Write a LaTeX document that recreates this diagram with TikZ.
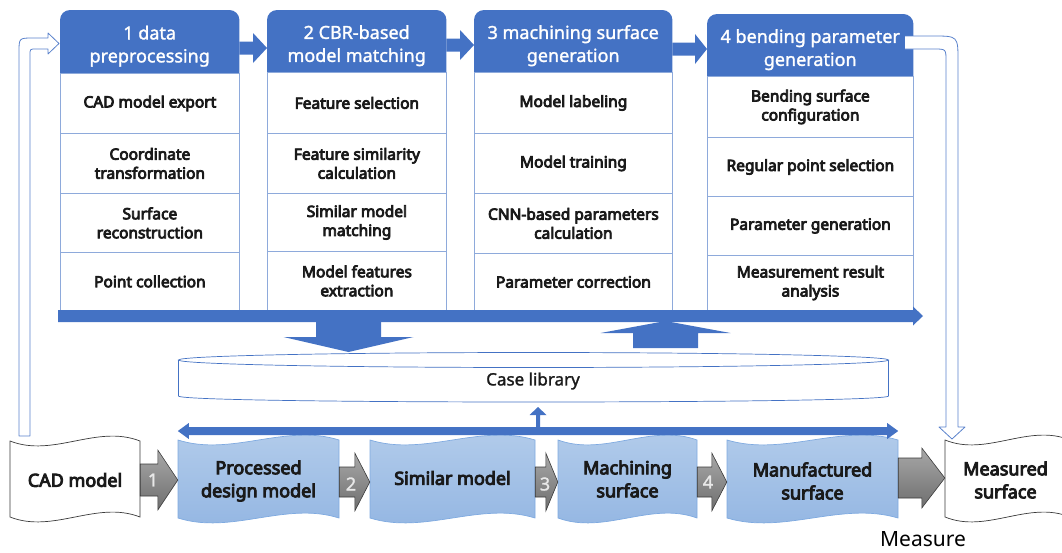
\documentclass[tikz,border=0pt]{standalone}
\usepackage{fontspec}
\setmainfont{Noto Sans}
\newfontfamily\cellfont{Noto Sans}[FakeBold=5]
\newfontfamily\hdrfont{Noto Sans}[FakeBold=1.5]
\newfontfamily\libfont{Noto Sans}[FakeBold=1.5]
\usetikzlibrary{calc}
\pgfdeclarelayer{background}
\pgfsetlayers{background,main}

\definecolor{hdrblue}{HTML}{4472C4}
\definecolor{cellline}{HTML}{8EAADB}
\definecolor{wavetop}{HTML}{B4CDEB}
\definecolor{wavebot}{HTML}{92B5E2}
\definecolor{waveline}{HTML}{7FAAE0}
\definecolor{grayhi}{HTML}{A8A8A8}
\definecolor{graylo}{HTML}{6E6E6E}
\definecolor{grayline}{HTML}{3A3A3A}
\definecolor{numgray}{HTML}{E8E8E8}
\definecolor{txt}{HTML}{1A1A1A}
\definecolor{fbline}{HTML}{5A82CC}

% horizontal block arrow: #2 tail point, #3 tip point (same height)
\newcommand\blockH[6][]{\path[#1] let \p1=(#2),\p2=(#3),\n1={(\x2>\x1)*2-1} in
  (\x1,\y1+#4) -- (\x2-\n1*#6,\y1+#4) -- (\x2-\n1*#6,\y1+#5) -- (\x2,\y1)
  -- (\x2-\n1*#6,\y1-#5) -- (\x2-\n1*#6,\y1-#4) -- (\x1,\y1-#4) -- cycle;}
% vertical block arrow: #2 tail point, #3 tip point (same abscissa)
\newcommand\blockV[6][]{\path[#1] let \p1=(#2),\p2=(#3),\n1={(\y2>\y1)*2-1} in
  (\x1+#4,\y1) -- (\x1+#4,\y2-\n1*#6) -- (\x1+#5,\y2-\n1*#6) -- (\x1,\y2)
  -- (\x1-#5,\y2-\n1*#6) -- (\x1-#4,\y2-\n1*#6) -- (\x1-#4,\y1) -- cycle;}
% double-headed horizontal block arrow, #2 left tip, #3 right tip
\newcommand\blockDbl[6][]{\path[#1] let \p1=(#2),\p2=(#3) in
  (\x1,\y1) -- (\x1+#6,\y1-#5) -- (\x1+#6,\y1-#4) -- (\x2-#6,\y1-#4)
  -- (\x2-#6,\y1-#5) -- (\x2,\y1) -- (\x2-#6,\y1+#5) -- (\x2-#6,\y1+#4)
  -- (\x1+#6,\y1+#4) -- (\x1+#6,\y1+#5) -- cycle;}
% wavy document box between x #2..#4, top #3, bottom #5
\newcommand\wavebox[5][]{\path[#1] (#2,#3)
  .. controls ({#2+(#4-#2)/3},{#3+17}) and ({#2+2*(#4-#2)/3},{#3-17}) .. (#4,#3)
  -- (#4,#5)
  .. controls ({#2+2*(#4-#2)/3},{#5-17}) and ({#2+(#4-#2)/3},{#5+17}) .. (#2,#5)
  -- cycle;}

\begin{document}
\begin{tikzpicture}[x=1pt,y=-1pt,
  hdrbox/.style={inner sep=0pt, anchor=north west},
  hdrtext/.style={text=white, font=\hdrfont\fontsize{18}{23}\selectfont, align=center,
    inner sep=0pt, yshift=-4.5pt},
  cell/.style={draw=cellline, line width=0.8pt, fill=white, text=txt,
    font=\cellfont\fontsize{15.5}{19}\selectfont, align=center, inner sep=0pt, anchor=north west},
  hdrfill/.style={fill=hdrblue},
  bluearrow/.style={fill=hdrblue},
  fbarrow/.style={draw=fbline, line width=0.8pt, fill=white, line join=round},
  libbody/.style={draw=hdrblue, line width=0.7pt, fill=white},
  libtext/.style={text=txt, font=\libfont\fontsize{17}{20}\selectfont, inner sep=0pt},
  bluewave/.style={draw=waveline, line width=0.7pt, top color=wavetop, bottom color=wavebot},
  whitewave/.style={draw=grayline, line width=0.7pt, fill=white},
  wavetext/.style={text=txt, font=\cellfont\fontsize{18}{23}\selectfont, align=center,
    inner sep=0pt, minimum height=76pt},
  grayarrow/.style={draw=grayline, line width=0.6pt, top color=grayhi, bottom color=graylo,
    line join=miter},
  numtext/.style={text=numgray, font=\hdrfont\fontsize{18}{20}\selectfont, inner sep=0pt},
  measuretext/.style={text=black, font=\fontsize{21}{24}\selectfont, inner sep=0pt}
]
\useasboundingbox (0,0) rectangle (1062,552);

% ---------------- feedback loops (behind the headers) ----------------
\draw[fbarrow] (30,436) -- (19,436) -- (19,52) .. controls (19,38) .. (33,38)
  -- (48,38) -- (48,33) -- (59,43.5) -- (48,54) -- (48,49) -- (36,49)
  .. controls (30,49) .. (30,55) -- cycle;
\draw[fbarrow] (905,36) -- (933,36) .. controls (958,36) .. (958,61) -- (958,427)
  -- (965,427) -- (952,439) -- (939,427) -- (946,427) -- (946,61)
  .. controls (946,49) .. (934,49) -- (905,49);

% ---------------- column headers ----------------
\node[hdrbox, minimum width=179pt, minimum height=63pt] (h1) at (60,10) {};
\node[hdrbox, minimum width=179pt, minimum height=62pt] (h2) at (267,10) {};
\node[hdrbox, minimum width=198pt, minimum height=62pt] (h3) at (474,10) {};
\node[hdrbox, minimum width=206pt, minimum height=62pt] (h4) at (707,14) {};
\begin{pgfonlayer}{background}
  \foreach \h in {h1,h2,h3,h4}{
    \fill[hdrfill] (\h.south west) [rounded corners=10pt] -- (\h.north west)
      -- (\h.north east) [sharp corners] -- (\h.south east) -- cycle;
  }
\end{pgfonlayer}
\node[hdrtext] (t1) at (h1.center) {1 data\\preprocessing};
\node[hdrtext] (t2) at (h2.center) {2 CBR-based\\model matching};
\node[hdrtext] (t3) at (h3.center) {3 machining surface\\generation};
\node[hdrtext] (t4) at (h4.center) {4 bending parameter\\generation};

% ---------------- column cells ----------------
\node[cell, minimum width=179pt, minimum height=60pt] (c11) at (60,73)  {CAD model export};
\node[cell, minimum width=179pt, minimum height=60pt] (c12) at (60,133) {Coordinate\\transformation};
\node[cell, minimum width=179pt, minimum height=59pt] (c13) at (60,193) {Surface\\reconstruction};
\node[cell, minimum width=179pt, minimum height=58pt] (c14) at (60,252) {Point collection};

\node[cell, minimum width=179pt, minimum height=61pt] (c21) at (267,72)  {Feature selection};
\node[cell, minimum width=179pt, minimum height=60pt] (c22) at (267,133) {Feature similarity\\calculation};
\node[cell, minimum width=179pt, minimum height=58pt] (c23) at (267,193) {Similar model\\matching};
\node[cell, minimum width=179pt, minimum height=59pt] (c24) at (267,251) {Model features\\extraction};

\node[cell, minimum width=198pt, minimum height=61pt] (c31) at (474,72)  {Model labeling};
\node[cell, minimum width=198pt, minimum height=60pt] (c32) at (474,133) {Model training};
\node[cell, minimum width=198pt, minimum height=60pt] (c33) at (474,193) {CNN-based parameters\\calculation};
\node[cell, minimum width=198pt, minimum height=57pt] (c34) at (474,253) {Parameter correction};

\node[cell, minimum width=206pt, minimum height=61pt] (c41) at (707,76)  {Bending surface\\configuration};
\node[cell, minimum width=206pt, minimum height=59pt] (c42) at (707,137) {Regular point selection};
\node[cell, minimum width=206pt, minimum height=59pt] (c43) at (707,196) {Parameter generation};
\node[cell, minimum width=206pt, minimum height=55pt] (c44) at (707,255) {Measurement result\\analysis};

% ---------------- arrows between the headers ----------------
\coordinate (ya) at (0,48);
\coordinate (yb) at (0,45);
\coordinate (yc) at (0,49);
\blockH[bluearrow]{h1.east |- ya}{h2.west |- ya}{6.5pt}{15pt}{14pt}
\blockH[bluearrow]{h2.east |- yb}{h3.west |- yb}{6.5pt}{15pt}{14pt}
\blockH[bluearrow]{h3.east |- yc}{h4.west |- yc}{6.5pt}{15pt}{12pt}

% ---------------- main flow bar ----------------
\coordinate (busL) at (58,316);
\coordinate (busR) at (923,316);
\blockH[bluearrow]{busL}{busR}{6pt}{9.5pt}{10pt}

% ---------------- case library ----------------
\node[libtext] (lib) at (533,381) {Case library};
\begin{pgfonlayer}{background}
  \path[libbody] (178.5,360) -- (178.5,396)
    .. controls (178.5,404) and (888.5,404) .. (888.5,396) -- (888.5,360);
  \path[libbody] (533.5,360) ellipse [x radius=355pt, y radius=7.5pt];
\end{pgfonlayer}

\coordinate (dn0) at (348.5,322);
\coordinate (dn1) at (348.5,352);
\coordinate (up0) at (665.5,348);
\coordinate (up1) at (665.5,321);
\blockV[bluearrow]{dn0}{dn1}{32.5pt}{65pt}{15pt}
\blockV[bluearrow]{up0}{up1}{32.5pt}{65pt}{12pt}

% ---------------- bottom process chain ----------------
\begin{pgfonlayer}{background}
  \wavebox[whitewave]{10}{441}{140}{517}
  \wavebox[bluewave]{178}{440}{339}{518}
  \wavebox[bluewave]{370}{440}{535}{518}
  \wavebox[bluewave]{558}{440}{697}{518}
  \wavebox[bluewave]{727}{440}{898}{518}
  \wavebox[whitewave]{945}{440}{1070}{517}
\end{pgfonlayer}
\node[wavetext, minimum width=130pt] (w1) at (75,480)    {CAD model};
\node[wavetext, minimum width=161pt] (w2) at (258.5,481) {Processed\\design model};
\node[wavetext, minimum width=165pt] (w3) at (452.5,478) {Similar model};
\node[wavetext, minimum width=139pt] (w4) at (627.5,479) {Machining\\surface};
\node[wavetext, minimum width=171pt] (w5) at (812.5,481) {Manufactured\\surface};
\node[wavetext, minimum width=121pt] (w6) at (1005.5,480) {Measured\\surface};

\coordinate (g1) at (0,480);
\coordinate (g2) at (0,482);
\coordinate (g3) at (0,482);
\coordinate (g4) at (0,482);
\coordinate (g5) at (0,478);
\blockH[grayarrow]{w1.east |- g1}{w2.west |- g1}{16pt}{30pt}{20pt}
\blockH[grayarrow]{w2.east |- g2}{w3.west |- g2}{15pt}{29pt}{15pt}
\blockH[grayarrow]{w3.east |- g3}{w4.west |- g3}{15pt}{29pt}{12pt}
\blockH[grayarrow]{w4.east |- g4}{w5.west |- g4}{15pt}{29pt}{15pt}
\blockH[grayarrow]{w5.east |- g5}{w6.west |- g5}{20pt}{30pt}{23pt}

\node[numtext] (n1) at (153,480) {1};
\node[numtext] (n2) at (351,484) {2};
\node[numtext] (n3) at (545,484) {3};
\node[numtext] (n4) at (708,482) {4};

\node[measuretext] (meas) at (923,539) {Measure};

% ---------------- exchange bar with the case library ----------------
\coordinate (dbl) at (0,431);
\blockDbl[bluearrow]{w2.west |- dbl}{w5.east |- dbl}{4pt}{8pt}{11pt}
\coordinate (sa0) at (538,428);
\coordinate (sa1) at (538,407);
\blockV[bluearrow]{sa0}{sa1}{2pt}{8.5pt}{8pt}
\end{tikzpicture}
\end{document}
